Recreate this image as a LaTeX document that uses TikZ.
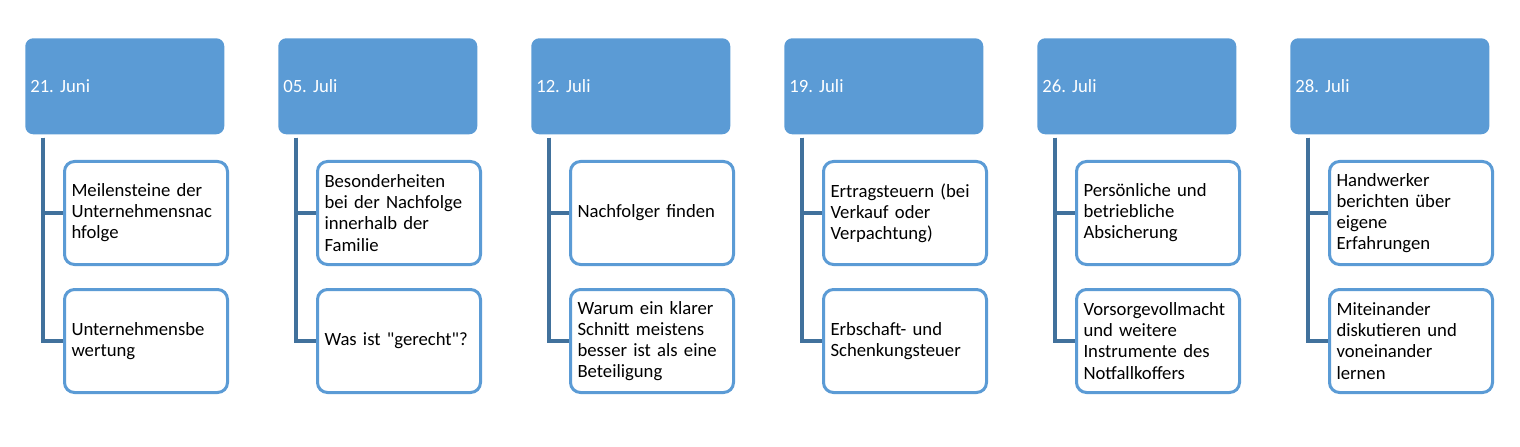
\documentclass[tikz,border=0pt]{standalone}
\usepackage{fontspec}
\setmainfont{Carlito}[Ligatures=TeXOff]
\usepackage{tikz}
\usetikzlibrary{calc,positioning}
\definecolor{datefill}{RGB}{91,155,213}
\definecolor{topicline}{RGB}{91,155,213}
\definecolor{treeline}{RGB}{65,113,156}
\frenchspacing
\tikzset{
  datebox/.style={fill=datefill,rounded corners=0.2cm,anchor=north west,
    minimum height=2.4cm,text width=4.725cm,inner xsep=0.125cm,align=left,text=white},
  topicbox/.style={draw=topicline,line width=0.075cm,fill=white,rounded corners=0.25cm,
    anchor=north west,minimum height=2.575cm,text width=3.725cm,inner xsep=0.175cm,align=left},
  treeedge/.style={draw=treeline,line width=0.1cm}
}

\begin{document}
\begin{tikzpicture}[font=\fontsize{13.3}{15}\selectfont]
\useasboundingbox (0,0) rectangle (38,-11.175);
\foreach \i/\dte/\topa/\topb in {
  0/{21. Juni}/{Meilensteine der\\Unternehmensnac\\hfolge}/{Unternehmensbe\\wertung},
  1/{05. Juli}/{Besonderheiten\\bei der Nachfolge\\innerhalb der\\Familie}/{Was ist "gerecht"?},
  2/{12. Juli}/{Nachfolger finden}/{Warum ein klarer\\Schnitt meistens\\besser ist als eine\\Beteiligung},
  3/{19. Juli}/{Ertragsteuern (bei\\Verkauf oder\\Verpachtung)}/{Erbschaft- und\\Schenkungsteuer},
  4/{26. Juli}/{Persönliche und\\betriebliche\\Absicherung}/{Vorsorgevollmacht\\und weitere\\Instrumente des\\Notfallkoffers},
  5/{28. Juli}/{Handwerker\\berichten über\\eigene\\Erfahrungen}/{Miteinander\\diskutieren und\\voneinander\\lernen}}{
  \node[datebox] (date\i) at (0.625+6.325*\i,-0.95) {\dte};
  \node[topicbox] (ta\i) at (1.575+6.325*\i,-4.0) {\topa};
  \node[topicbox] (tb\i) at (1.575+6.325*\i,-7.2) {\topb};
  \coordinate (root\i) at ($(date\i.south west)+(0.45,-0.075)$);
  \draw[treeedge] (root\i) |- (ta\i.west);
  \draw[treeedge] (root\i) |- (tb\i.west);
}
\end{tikzpicture}
\end{document}
